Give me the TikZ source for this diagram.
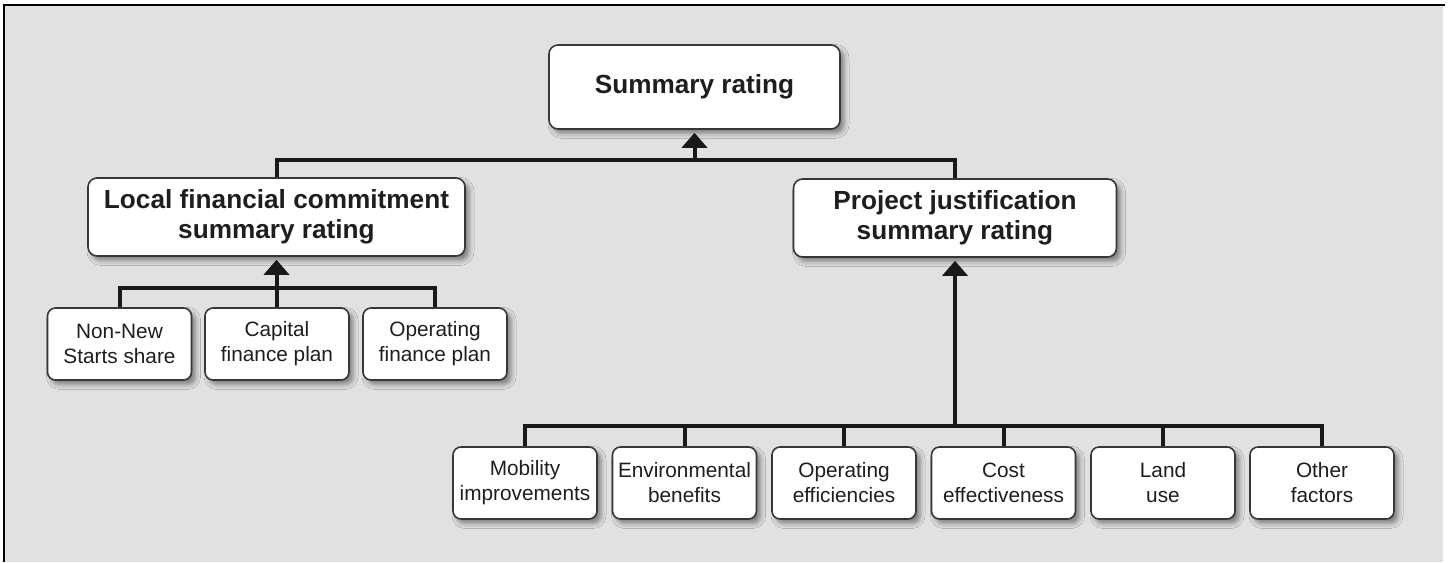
\documentclass[tikz,border=0pt]{standalone}
\usepackage{fontspec}
\setmainfont{Liberation Sans}
\usetikzlibrary{arrows.meta,shadows.blur}

\definecolor{bg}{RGB}{225,225,225}
\definecolor{ink}{RGB}{30,30,30}
\definecolor{edge}{RGB}{55,55,55}

\begin{document}
\begin{tikzpicture}[x=0.5pt,y=-0.5pt,
  box/.style={draw=edge, line width=0.8pt, fill=white, rounded corners=4.5pt,
    align=center, inner sep=0pt, text=ink,
    blur shadow={shadow xshift=2pt, shadow yshift=-2.2pt, shadow blur radius=2.5pt, shadow opacity=45}},
  bigbox/.style={box, font=\bfseries\fontsize{13.1}{15}\selectfont},
  smallbox/.style={box, font=\fontsize{10.4}{12.5}\selectfont, minimum width=72pt, minimum height=36pt, rounded corners=4pt},
  conn/.style={line width=2pt, draw=black!90},
  arr/.style={conn, -{Triangle[width=12.5pt,length=7.5pt]}, shorten >=1.5pt},
]
\useasboundingbox (0,0) rectangle (1450,562);
\fill[white] (0,0) rectangle (1450,562);
\fill[bg] (4,5) rectangle (1443,562);
\draw[black, line width=1pt] (4,562) -- (4,5) -- (1445,5);

% top level
\node[bigbox, minimum width=145.5pt, minimum height=42pt] (top) at (694.5,87) {Summary rating};

% second level
\node[bigbox, minimum width=188.5pt, minimum height=39pt] (local) at (276.5,217) {Local financial commitment\\summary rating};
\node[bigbox, minimum width=161.5pt, minimum height=39pt] (proj) at (955,218) {Project justification\\summary rating};

% left leaves
\node[smallbox] (l1) at (119.5,344) {Non-New\\Starts share};
\node[smallbox] (l2) at (277,344) {Capital\\finance plan};
\node[smallbox] (l3) at (435,344) {Operating\\finance plan};

% right leaves
\node[smallbox] (r1) at (525,483) {Mobility\\improvements};
\node[smallbox] (r2) at (684.5,483) {Environmental\\benefits};
\node[smallbox] (r3) at (844,483) {Operating\\efficiencies};
\node[smallbox] (r4) at (1003.5,483) {Cost\\effectiveness};
\node[smallbox] (r5) at (1163,483) {Land\\use};
\node[smallbox] (r6) at (1322,483) {Other\\factors};

% junction coordinates
\coordinate (tj) at (694.5,160);
\coordinate (lj) at (277,288);
\coordinate (rj) at (953,426);

% top connectors
\draw[conn] (local.north) -- (local.north |- tj) -- (proj.north |- tj) -- (proj.north);
\draw[arr] (top.south |- tj) -- (top.south);

% left connectors
\draw[conn] (l1.north) -- (l1.north |- lj) -- (l3.north |- lj) -- (l3.north);
\draw[conn] (l2.north) -- (l2.north |- lj);
\draw[arr] (local.south |- lj) -- (local.south);

% right connectors
\draw[conn] (r1.north) -- (r1.north |- rj) -- (r6.north |- rj) -- (r6.north);
\foreach \n in {r2,r3,r4,r5} \draw[conn] (\n.north) -- (\n.north |- rj);
\draw[arr] (proj.south |- rj) -- (proj.south);
\end{tikzpicture}
\end{document}
